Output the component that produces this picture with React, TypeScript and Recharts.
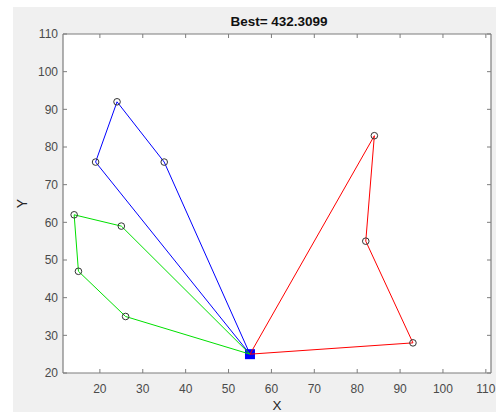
import React from 'react';
import { ScatterChart, Scatter, XAxis, YAxis, CartesianGrid, Label } from 'recharts';

// Route data (depot at 55,25)
const depotX = [55];
const depotY = [25];
const blueX = [55, 19, 24, 35, 55];
const blueY = [25, 76, 92, 76, 25];
const greenX = [55, 25, 14, 15, 26, 55];
const greenY = [25, 59, 62, 47, 35, 25];
const redX = [55, 84, 82, 93, 55];
const redY = [25, 83, 55, 28, 25];
const customersX = [19, 24, 35, 25, 14, 15, 26, 84, 82, 93];
const customersY = [76, 92, 76, 59, 62, 47, 35, 83, 55, 28];

const xTicks = [20, 30, 40, 50, 60, 70, 80, 90, 100, 110];
const yTicks = [20, 30, 40, 50, 60, 70, 80, 90, 100, 110];
const xDomain = [11.4, 111.2];
const yDomain = [20, 110];
const title = 'Best= 432.3099';
const xLabel = 'X';
const yLabel = 'Y';

const zip = (xs: number[], ys: number[]) => xs.map((x, i) => ({ x, y: ys[i] }));

const AX = '#7d7d7d';
const TXT = '#4a4a4a';
const FONT = '"Liberation Sans", Arial, Helvetica, sans-serif';

const BottomTick = (p: any) => (
  <g>
    <line x1={p.x} y1={p.y} x2={p.x} y2={p.y - 4} stroke={AX} strokeWidth={1} />
    <line x1={p.x} y1={34} x2={p.x} y2={38} stroke={AX} strokeWidth={1} />
    <text x={p.x} y={p.y + 19.5} textAnchor="middle" fontSize={12} fill={TXT} fontFamily={FONT}>
      {p.payload.value}
    </text>
  </g>
);
const LeftTick = (p: any) => (
  <g>
    <line x1={p.x} y1={p.y} x2={p.x + 4} y2={p.y} stroke={AX} strokeWidth={1} />
    <line x1={491} y1={p.y} x2={487} y2={p.y} stroke={AX} strokeWidth={1} />
    <text x={p.x - 5} y={p.y + 4.3} textAnchor="end" fontSize={12} fill={TXT} fontFamily={FONT}>
      {p.payload.value}
    </text>
  </g>
);

const NoShape = () => <g />;
const CircleShape = (p: any) => (
  <circle cx={p.cx} cy={p.cy} r={3.3} fill="none" stroke="#333" strokeWidth={1} />
);
const SquareShape = (p: any) => (
  <rect x={p.cx - 5} y={p.cy - 5} width={10} height={10} fill="#0000ff" />
);

export default function App() {
  return (
    <div style={{ position: 'absolute', left: 0, top: 0, width: 496, height: 412, background: '#fff' }}>
      <div style={{ position: 'absolute', left: 13, top: 7, width: 483, height: 405, background: '#f0f0f0' }} />
      <div style={{ position: 'absolute', left: 0, top: 0 }}>
        <ScatterChart width={496} height={412} margin={{ top: 34, right: 5, bottom: 0, left: 0 }}>
          <CartesianGrid horizontal={false} vertical={false} fill="#ffffff" fillOpacity={1} stroke={AX} />
          <XAxis
            dataKey="x"
            type="number"
            domain={xDomain}
            ticks={xTicks}
            allowDataOverflow
            height={39}
            tickSize={0}
            tickMargin={0}
            tickLine={false}
            axisLine={{ stroke: AX, strokeWidth: 1.2 }}
            tick={BottomTick}
            interval={0}
          >
            <Label
              content={(lp: any) => {
                const vb = lp.viewBox;
                const cx = vb.x + vb.width / 2;
                return (
                  <g>
                    <text x={cx} y={409.5} textAnchor="middle" fontSize={13.5} fill="#262626" fontFamily={FONT}>
                      {xLabel}
                    </text>
                    <text x={cx + 2} y={26} textAnchor="middle" fontSize={13.5} fontWeight="bold" fill="#111" fontFamily={FONT}>
                      {title}
                    </text>
                    <line x1={vb.x} y1={34} x2={vb.x + vb.width} y2={34} stroke={AX} strokeWidth={1.2} />
                    <line x1={vb.x + vb.width} y1={34} x2={vb.x + vb.width} y2={vb.y} stroke={AX} strokeWidth={1.2} />
                  </g>
                );
              }}
            />
          </XAxis>
          <YAxis
            dataKey="y"
            type="number"
            domain={yDomain}
            ticks={yTicks}
            allowDataOverflow
            width={63}
            tickSize={0}
            tickMargin={0}
            tickLine={false}
            axisLine={{ stroke: AX, strokeWidth: 1.2 }}
            tick={LeftTick}
            interval={0}
          >
            <Label
              content={(lp: any) => {
                const vb = lp.viewBox;
                const cy = vb.y + vb.height / 2;
                return (
                  <text x={26.5} y={cy} transform={`rotate(-90 26.5 ${cy})`} textAnchor="middle" fontSize={14} fill="#262626" fontFamily={FONT}>
                    {yLabel}
                  </text>
                );
              }}
            />
          </YAxis>
          <Scatter data={zip(depotX, depotY)} shape={SquareShape} isAnimationActive={false} />
          <Scatter data={zip(blueX, blueY)} line={{ stroke: '#0000ff', strokeWidth: 1 }} shape={NoShape} isAnimationActive={false} />
          <Scatter data={zip(greenX, greenY)} line={{ stroke: '#00e000', strokeWidth: 1 }} shape={NoShape} isAnimationActive={false} />
          <Scatter data={zip(redX, redY)} line={{ stroke: '#ff0000', strokeWidth: 1 }} shape={NoShape} isAnimationActive={false} />
          <Scatter data={zip(customersX, customersY)} shape={CircleShape} isAnimationActive={false} />
        </ScatterChart>
      </div>
    </div>
  );
}
